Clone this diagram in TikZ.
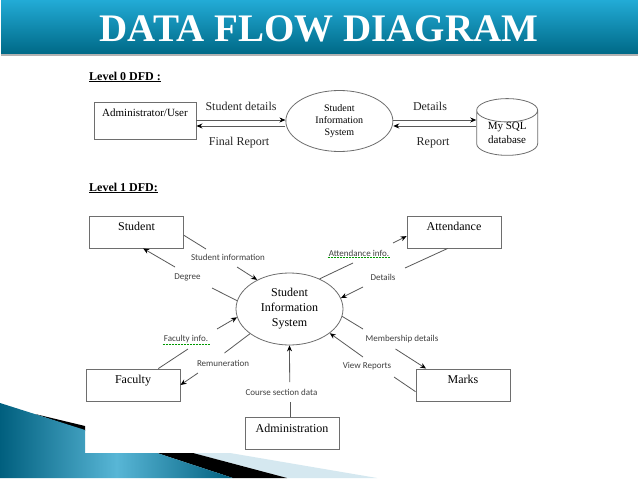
\documentclass[tikz,border=0pt]{standalone}
\usepackage{fontspec}
\setmainfont{Liberation Serif}
\setsansfont{Carlito}
\usepackage{xcolor}
\usetikzlibrary{arrows.meta,positioning,shapes.geometric}

\definecolor{headtop}{HTML}{22ABD6}
\definecolor{headbot}{HTML}{006A88}
\definecolor{tealdark}{HTML}{005F7E}
\definecolor{teallight}{HTML}{58B6D6}
\definecolor{paleband}{HTML}{D5E8F0}
\definecolor{edgegray}{HTML}{6E6E6E}

\tikzset{
  dfdbox/.style={draw=edgegray, line width=0.9pt, minimum width=94pt, minimum height=32pt,
    inner sep=0pt, font=\fontsize{12}{12}\selectfont, text height=8pt, text depth=11pt},
  procnode/.style={draw=edgegray, line width=0.8pt, ellipse, inner sep=0pt, align=center},
  flowlbl/.style={font=\sffamily\fontsize{9}{9}\selectfont, text=black!75, inner sep=1pt},
  toplbl/.style={font=\fontsize{12}{12}\selectfont, text=black!85, inner sep=1pt},
  flow/.style={draw=black!65, line width=0.8pt},
  flowtip/.style={flow, -{Stealth[length=6pt,width=5pt,black]}},
  levelhead/.style={font=\bfseries\fontsize{12}{12}\selectfont, inner sep=0pt, anchor=west}
}

\begin{document}
\begin{tikzpicture}[x=1pt, y=-1pt]
        \useasboundingbox (0,0) rectangle (638,479);

        % Slide background
        \fill[white] (0,0) rectangle (638,479);
        \fill[black!30] (1,53) rectangle (638,56);
        \shade[top color=headtop, bottom color=headbot] (1,0) rectangle (638,53);
        \fill[paleband] (193,453) -- (230,453) -- (377,478) -- (287,478) -- cycle;
        \fill[black] (35,414) -- (85,426) -- (85,431) -- cycle;
        \fill[black] (157,453) -- (193,453) -- (287,478) -- (233,478) -- cycle;
        \shade[left color=tealdark, right color=tealdark, middle color=teallight]
            (0,403) -- (85,430) -- (85,453) -- (157,453) -- (233,478) -- (0,478) -- cycle;
        \node[font=\bfseries\fontsize{39}{39}\selectfont, text=white, inner sep=0pt] (title) at (319,29) {DATA FLOW DIAGRAM};

        % Level 0
        \node[levelhead] (lvlzero) at (89,77) {\underline{Level 0 DFD :}};
        \node[dfdbox, minimum width=102pt, minimum height=37pt, font=\fontsize{11}{11}\selectfont,
              text depth=17pt] (admin) at (145,121) {Administrator/User};
        \node[procnode, minimum width=107pt, minimum height=61pt, font=\fontsize{10}{12}\selectfont,
              right=89pt of admin] (syszero) {Student\\Information\\System};
        \node[cylinder, draw=edgegray, line width=0.8pt, shape border rotate=90, aspect=0.6,
              minimum width=61pt, minimum height=51pt, inner sep=0pt, align=center,
              font=\fontsize{11}{14}\selectfont, right=83pt of syszero, yshift=-12pt] (mysql) {My SQL\\database};

        \node[toplbl] (stud) at (241,106) {Student details};
        \node[toplbl] (final) at (239,143) {Final Report};
        \node[toplbl] (det) at (430,106) {Details};
        \node[toplbl] (rep) at (433,143) {Report};

        \draw[flowtip] ([yshift=1pt]admin.east) -- ([yshift=1pt]syszero.west);
        \draw[flowtip] ([yshift=-5pt]syszero.west) -- ([yshift=-5pt]admin.east);
        \draw[flowtip] ([yshift=1pt]syszero.east) -- ([yshift=13pt]mysql.west);
        \draw[flowtip] ([yshift=7pt]mysql.west) -- ([yshift=-5pt]syszero.east);

        % Level 1
        \node[levelhead] (lvlone) at (89,188) {\underline{Level 1 DFD:}};
        \node[procnode, minimum width=107pt, minimum height=72pt, font=\fontsize{12}{15}\selectfont] (sysone) at (289.5,309) {Student\\Information\\System};
        \node[dfdbox] (student) at (136.5,232) {Student};
        \node[dfdbox] (attend) at (454,232) {Attendance};
        \node[dfdbox] (faculty) at (133,385) {Faculty};
        \node[dfdbox] (marks) at (463,385) {Marks};
        \node[dfdbox] (adminis) at (292,433.5) {Administration};

        % Labels
        \node[flowlbl] (sinfo) at (228,257) {Student information};
        \node[flowlbl] (degree) at (187.5,277) {Degree};
        \node[flowlbl] (ainfo) at (359,253) {Attendance info.};
        \node[flowlbl] (details) at (383,277) {Details};
        \node[flowlbl] (finfo) at (186,339) {Faculty info.};
        \node[flowlbl] (remun) at (223,363) {Remuneration};
        \node[flowlbl] (course) at (281.5,392) {Course section data};
        \node[flowlbl] (member) at (402,339) {Membership details};
        \node[flowlbl] (view) at (367,366) {View Reports};

        % Spelling marks
        \draw[green!60!black, densely dotted, line width=0.5pt] (ainfo.south west) -- (ainfo.south east);
        \draw[green!60!black, densely dotted, line width=0.5pt] (finfo.south west) -- (finfo.south east);

        % Free ends
        \coordinate (sinfoa) at (206,249);
        \coordinate (sinfob) at (237,267);
        \coordinate (dega) at (212,288);
        \coordinate (degb) at (175,267);
        \coordinate (ainfoa) at (353,263);
        \coordinate (ainfob) at (393,243);
        \coordinate (deta) at (405,268);
        \coordinate (detb) at (363,287);
        \coordinate (finfoa) at (188,349);
        \coordinate (finfob) at (217,329);
        \coordinate (rema) at (224.5,353);
        \coordinate (remb) at (198,373);
        \coordinate (coura) at (290.5,402);
        \coordinate (courb) at (289.7,382);
        \coordinate (mema) at (363,329);
        \coordinate (memb) at (395.5,349);
        \coordinate (viewa) at (394,377);
        \coordinate (viewb) at (363,357);

        % Arrows
        \draw[flow] (student.-4) -- (sinfoa);
        \draw[flowtip] (sinfob) -- (sysone.138);
        \draw[flow] (sysone.171) -- (dega);
        \draw[flowtip] (degb) -- (student.-68);
        \draw[flow] (sysone.45) -- (ainfoa);
        \draw[flowtip] (ainfob) -- (attend.185);
        \draw[flow] (attend.249) -- (deta);
        \draw[flowtip] (detb) -- (sysone.12);
        \draw[flow] (faculty.33) -- (finfoa);
        \draw[flowtip] (finfob) -- (sysone.189);
        \draw[flow] (sysone.212) -- (rema);
        \draw[flowtip] (remb) -- (faculty.east);
        \draw[flow] (adminis.95) -- (coura);
        \draw[flowtip] (courb) -- (sysone.270);
        \draw[flow] (sysone.-8) -- (mema);
        \draw[flowtip] (memb) -- (marks.156);
        \draw[flow] (marks.188) -- (viewa);
        \draw[flowtip] (viewb) -- (sysone.-31);
\end{tikzpicture}
\end{document}
